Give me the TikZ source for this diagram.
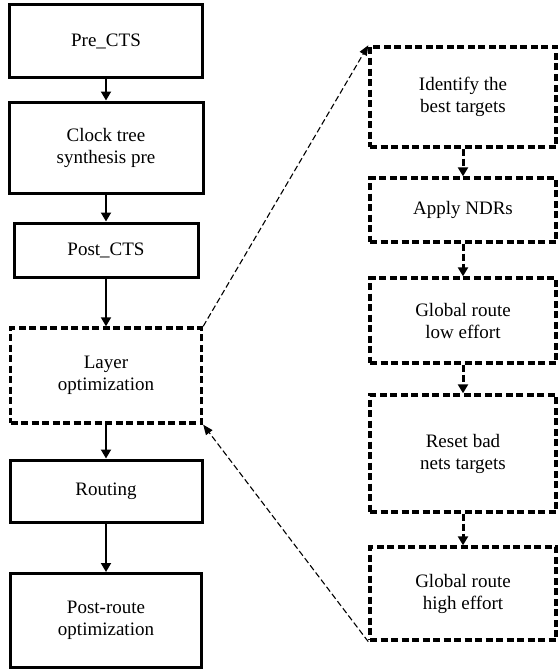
\documentclass[tikz,border=0pt]{standalone}
\usepackage{fontspec}
\setmainfont{Liberation Serif}
\usetikzlibrary{arrows.meta}
\begin{document}
\begin{tikzpicture}[x=1pt,y=-1pt,
  font=\fontsize{19}{22}\selectfont,
  solidbox/.style={draw,line width=3pt,inner sep=0pt,align=center},
  dashbox/.style={draw,line width=3.4pt,dash pattern=on 7pt off 3.5pt,inner sep=0pt,align=center},
  flow/.style={line width=1.8pt,-{Triangle[length=9pt,width=10pt]}},
  dashflow/.style={line width=3pt,dash pattern=on 7pt off 3pt,-{Triangle[length=9pt,width=10pt]}},
  zoomline/.style={line width=1.1pt,dash pattern=on 6pt off 3pt,-{Triangle[length=10pt,width=8pt]}}]
\useasboundingbox (0,0) rectangle (557,669);

% left one
\node[solidbox,minimum width=193pt,minimum height=72pt] (pre) at (106,41) {Pre\_CTS};
\node[solidbox,minimum width=194pt,minimum height=91pt] (cts) at (106,147.5) {Clock tree\\synthesis pre};
\node[solidbox,minimum width=184pt,minimum height=54pt] (post) at (106,250) {Post\_CTS};
\node[dashbox,minimum width=191pt,minimum height=95pt] (layer) at (106,375.5) {Layer\\optimization};
\node[solidbox,minimum width=192pt,minimum height=62pt] (route) at (106,491) {Routing};
\node[solidbox,minimum width=191pt,minimum height=94pt] (postroute) at (106,620.5) {Post-route\\optimization};

\draw[flow] (pre) -- (cts);
\draw[flow] (cts) -- (post);
\draw[flow] (post) -- (layer);
\draw[flow] (layer) -- (route);
\draw[flow] (route) -- (postroute);

% right one
\node[dashbox,minimum width=186pt,minimum height=100pt] (best) at (463,97) {Identify the\\best targets};
\node[dashbox,minimum width=186pt,minimum height=64pt] (ndr) at (463,210) {Apply NDRs};
\node[dashbox,minimum width=186pt,minimum height=85pt] (low) at (463,320.5) {Global route\\low effort};
\node[dashbox,minimum width=186pt,minimum height=117pt] (reset) at (463,453.5) {Reset bad\\nets targets};
\node[dashbox,minimum width=186pt,minimum height=93pt] (high) at (463,593.5) {Global route\\high effort};

\draw[dashflow] (best) -- (ndr);
\draw[dashflow] (ndr) -- (low);
\draw[dashflow] (low) -- (reset);
\draw[dashflow] (reset) -- (high);

% zoom lines
\draw[zoomline] (layer.north east) -- (best.north west);
\draw[zoomline] (high.south west) -- (layer.south east);
\end{tikzpicture}
\end{document}
